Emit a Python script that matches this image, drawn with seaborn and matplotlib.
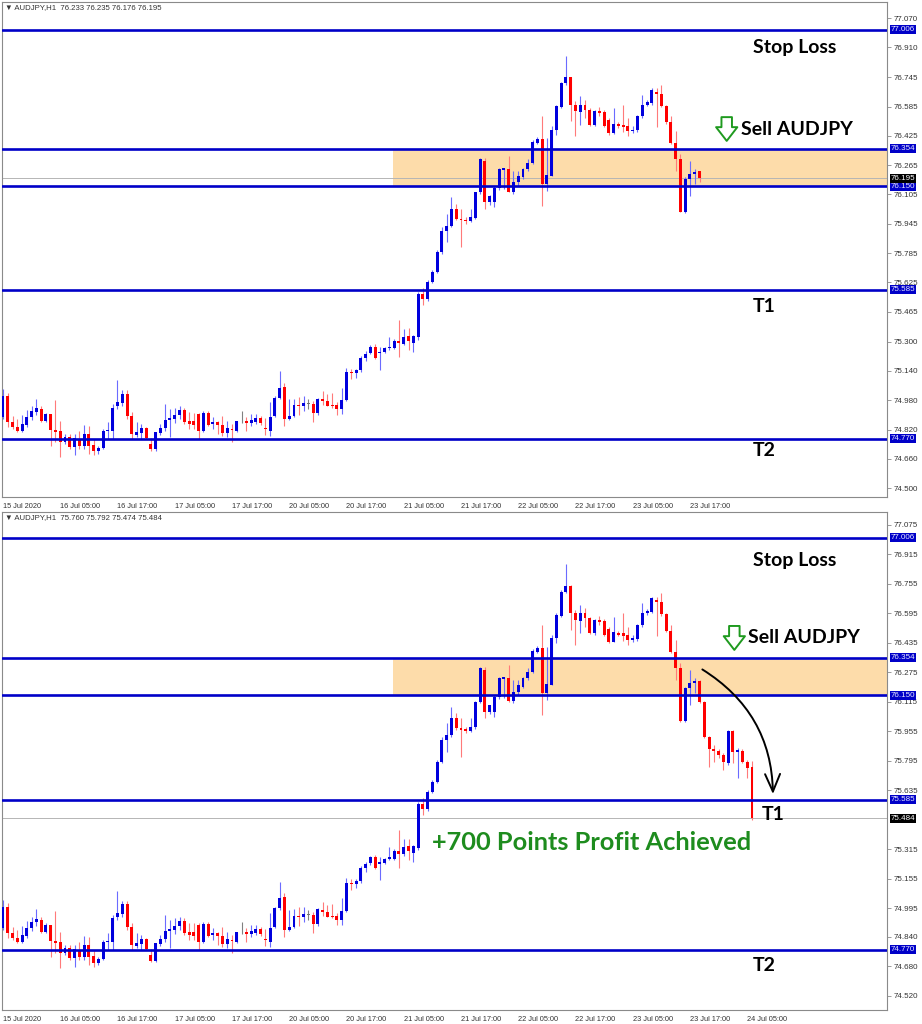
import matplotlib
matplotlib.use("Agg")
import matplotlib.pyplot as plt
import matplotlib.transforms as mtransforms
import numpy as np
import seaborn as sns

# AUDJPY H1 candles, 15 Jul 17:00 -> 24 Jul 05:00
bar_open = [74.886, 75.004, 74.860, 74.834, 74.814, 74.846, 74.886, 74.918, 74.931, 74.864,
            74.904, 74.817, 74.812, 74.751, 74.781, 74.723, 74.765, 74.729, 74.796, 74.736,
            74.700, 74.718, 74.812, 74.814, 74.946, 74.964, 75.016, 74.895, 74.790, 74.799,
            74.828, 74.741, 74.711, 74.801, 74.827, 74.873, 74.877, 74.899, 74.928, 74.868,
            74.868, 74.904, 74.814, 74.908, 74.852, 74.859, 74.846, 74.801, 74.823, 74.814,
            74.864, 74.864, 74.855, 74.863, 74.883, 74.827, 74.814, 74.895, 74.995, 75.054,
            74.877, 74.892, 74.953, 74.946, 74.959, 74.959, 74.908, 74.986, 74.977, 74.953,
            74.953, 74.931, 74.982, 75.134, 75.127, 75.145, 75.212, 75.240, 75.273, 75.237,
            75.242, 75.264, 75.264, 75.306, 75.288, 75.331, 75.295, 75.324, 75.559, 75.534,
            75.628, 75.682, 75.791, 75.908, 75.935, 76.026, 75.972, 75.966, 75.959, 75.977,
            76.116, 76.288, 76.062, 76.062, 76.143, 76.239, 76.243, 76.120, 76.171, 76.198,
            76.243, 76.275, 76.388, 76.409, 76.161, 76.207, 76.460, 76.583, 76.713, 76.746,
            76.596, 76.554, 76.596, 76.568, 76.487, 76.559, 76.554, 76.511, 76.442, 76.491,
            76.487, 76.478, 76.451, 76.455, 76.532, 76.596, 76.605, 76.668, 76.655, 76.590,
            76.500, 76.388, 76.297, 76.011, 76.192, 76.216, 76.228, 76.116, 75.926, 75.859,
            75.849, 75.827, 75.782, 75.957, 75.845, 75.849, 75.791, 75.760]
bar_high = [75.040, 75.022, 74.895, 74.877, 74.899, 74.928, 74.949, 74.989, 74.946, 74.913,
            74.906, 74.982, 74.868, 74.796, 74.796, 74.796, 74.814, 74.845, 74.841, 74.769,
            74.732, 74.823, 74.863, 74.959, 75.091, 75.036, 75.036, 74.917, 74.859, 74.850,
            74.832, 74.772, 74.808, 74.850, 74.959, 74.931, 74.940, 74.949, 74.940, 74.917,
            74.913, 74.913, 74.922, 74.922, 74.886, 74.868, 74.895, 74.868, 74.850, 74.868,
            74.922, 74.886, 74.904, 74.904, 74.895, 74.881, 74.968, 75.004, 75.139, 75.076,
            74.986, 74.989, 75.000, 75.004, 74.986, 74.977, 74.995, 75.031, 75.013, 75.018,
            74.968, 75.049, 75.158, 75.152, 75.152, 75.224, 75.248, 75.280, 75.285, 75.273,
            75.270, 75.328, 75.315, 75.419, 75.370, 75.373, 75.336, 75.570, 75.592, 75.635,
            75.690, 75.800, 75.926, 75.999, 76.089, 76.053, 76.026, 75.981, 76.026, 76.120,
            76.306, 76.306, 76.100, 76.152, 76.250, 76.252, 76.315, 76.234, 76.234, 76.250,
            76.300, 76.402, 76.420, 76.532, 76.415, 76.478, 76.596, 76.722, 76.863, 76.749,
            76.614, 76.641, 76.623, 76.578, 76.565, 76.583, 76.565, 76.523, 76.578, 76.500,
            76.596, 76.523, 76.478, 76.538, 76.650, 76.620, 76.686, 76.686, 76.704, 76.596,
            76.532, 76.451, 76.324, 76.198, 76.288, 76.247, 76.234, 76.120, 75.932, 75.881,
            75.859, 75.836, 75.960, 75.963, 75.867, 75.859, 75.800, 75.792]
bar_low = [74.877, 74.832, 74.823, 74.808, 74.805, 74.832, 74.873, 74.899, 74.863, 74.859,
           74.732, 74.751, 74.669, 74.741, 74.714, 74.678, 74.714, 74.714, 74.687, 74.678,
           74.687, 74.714, 74.769, 74.769, 74.931, 74.949, 74.877, 74.769, 74.778, 74.769,
           74.769, 74.705, 74.705, 74.790, 74.814, 74.778, 74.855, 74.877, 74.850, 74.823,
           74.823, 74.769, 74.805, 74.837, 74.823, 74.796, 74.787, 74.778, 74.751, 74.805,
           74.855, 74.814, 74.841, 74.850, 74.845, 74.790, 74.783, 74.886, 74.986, 74.841,
           74.873, 74.886, 74.899, 74.922, 74.931, 74.863, 74.899, 74.953, 74.946, 74.940,
           74.902, 74.904, 74.977, 75.094, 75.103, 75.134, 75.194, 75.232, 75.208, 75.146,
           75.236, 75.255, 75.258, 75.215, 75.280, 75.255, 75.246, 75.310, 75.500, 75.525,
           75.620, 75.675, 75.782, 75.845, 75.926, 75.963, 75.818, 75.945, 75.953, 75.970,
           76.107, 76.026, 76.050, 76.035, 76.130, 76.134, 76.116, 76.107, 76.152, 76.190,
           76.234, 76.270, 76.380, 76.044, 76.125, 76.207, 76.433, 76.578, 76.704, 76.505,
           76.424, 76.487, 76.523, 76.482, 76.480, 76.532, 76.474, 76.433, 76.438, 76.470,
           76.445, 76.424, 76.442, 76.445, 76.523, 76.587, 76.596, 76.474, 76.583, 76.493,
           76.379, 76.234, 76.008, 76.004, 76.098, 76.161, 76.107, 75.917, 75.764, 75.791,
           75.809, 75.745, 75.775, 75.782, 75.700, 75.782, 75.700, 75.474]
bar_close = [75.004, 74.860, 74.832, 74.814, 74.850, 74.886, 74.921, 74.935, 74.868, 74.904,
             74.817, 74.808, 74.751, 74.778, 74.723, 74.772, 74.729, 74.796, 74.732, 74.700,
             74.718, 74.814, 74.819, 74.940, 74.968, 75.016, 74.895, 74.796, 74.805, 74.828,
             74.772, 74.711, 74.805, 74.828, 74.872, 74.881, 74.899, 74.928, 74.863, 74.850,
             74.845, 74.814, 74.908, 74.846, 74.859, 74.845, 74.801, 74.827, 74.816, 74.864,
             74.864, 74.855, 74.873, 74.883, 74.855, 74.823, 74.886, 74.995, 75.049, 74.877,
             74.892, 74.953, 74.946, 74.964, 74.959, 74.910, 74.989, 74.977, 74.949, 74.946,
             74.931, 74.982, 75.134, 75.127, 75.145, 75.212, 75.235, 75.273, 75.213, 75.244,
             75.264, 75.273, 75.306, 75.291, 75.328, 75.306, 75.331, 75.560, 75.534, 75.628,
             75.682, 75.791, 75.908, 75.935, 76.026, 75.972, 75.963, 75.959, 75.981, 76.116,
             76.297, 76.062, 76.098, 76.143, 76.243, 76.248, 76.120, 76.171, 76.207, 76.243,
             76.279, 76.391, 76.409, 76.161, 76.210, 76.460, 76.587, 76.713, 76.746, 76.596,
             76.559, 76.596, 76.568, 76.487, 76.559, 76.550, 76.478, 76.442, 76.493, 76.478,
             76.474, 76.451, 76.460, 76.532, 76.596, 76.608, 76.677, 76.655, 76.590, 76.500,
             76.388, 76.297, 76.011, 76.192, 76.216, 76.228, 76.116, 75.926, 75.859, 75.849,
             75.827, 75.791, 75.957, 75.845, 75.854, 75.791, 75.758, 75.484]

# the upper screenshot was taken while bar 146 was still open
top_bar_count = 147
top_last_bar = [76.233, 76.235, 76.176, 76.195]

levels = [77.006, 76.354, 76.150, 75.585, 74.770]
zone = [76.150, 76.354]

top_yticks = [77.070, 76.910, 76.745, 76.585, 76.425, 76.265, 76.105, 75.945, 75.785,
              75.625, 75.465, 75.300, 75.140, 74.980, 74.820, 74.660, 74.500]
bot_yticks = [77.075, 76.915, 76.755, 76.595, 76.435, 76.275, 76.115, 75.955, 75.795,
              75.635, 75.315, 75.155, 74.995, 74.840, 74.680, 74.520]

time_labels = ["15 Jul 2020", "16 Jul 05:00", "16 Jul 17:00", "17 Jul 05:00", "17 Jul 17:00",
               "20 Jul 05:00", "20 Jul 17:00", "21 Jul 05:00", "21 Jul 17:00", "22 Jul 05:00",
               "22 Jul 17:00", "23 Jul 05:00", "23 Jul 17:00", "24 Jul 05:00"]

sns.set_style("white")
plt.rcParams["font.family"] = ["Liberation Sans", "DejaVu Sans"]

BLUE_LINE = "#0000c8"


def draw_candles(ax, o, h, l, c):
    o, h, l, c = map(np.asarray, (o, h, l, c))
    x = np.arange(len(o))
    up = c > o
    down = c < o
    body_col = np.where(up, "#0000dd", np.where(down, "#ff0000", "#707070"))
    wick_col = np.where(up, "#6b6bff", np.where(down, "#ff7a7a", "#808080"))
    ax.vlines(x, l, h, colors=wick_col, linewidth=0.8, zorder=2)
    bottom = np.minimum(o, c)
    height = np.maximum(np.abs(c - o), 0.004)
    ax.bar(x, height, bottom=bottom, width=0.62, color=body_col, linewidth=0, zorder=3)


def style_panel(ax, ylim, yticks, cur, n_labels, title):
    ax.set_xlim(-0.21, 185.3)
    ax.set_ylim(*ylim)
    for s in ax.spines.values():
        s.set_color("#8a8a8a")
        s.set_linewidth(0.8)
    # horizontal levels and sell zone
    ax.axhspan(zone[0], zone[1], xmin=0.4418, xmax=1, color="#fddcaa", lw=0, zorder=0)
    ax.axhline(cur, color="#b5b5b5", lw=0.7, zorder=1)
    for lvl in levels:
        ax.axhline(lvl, color=BLUE_LINE, lw=1.9, zorder=4)
    # right price scale
    ax.yaxis.tick_right()
    ax.set_yticks(yticks)
    ax.set_yticklabels([f"{v:.3f}" for v in yticks])
    ax.tick_params(axis="y", direction="out", length=3, pad=2, labelsize=5.8,
                   colors="#8a8a8a", labelcolor="#333333", width=0.6)
    trans = mtransforms.blended_transform_factory(ax.transAxes, ax.transData)
    for lvl in levels:
        ax.text(1.004, lvl, f"{lvl:.3f}", transform=trans, fontsize=5.8, color="#e8e8ff",
                va="center", ha="left", zorder=6,
                bbox=dict(boxstyle="square,pad=0.12", fc="#0000c8", ec="none"))
    ax.text(1.004, cur, f"{cur:.3f}", transform=trans, fontsize=5.8, color="white",
            va="center", ha="left", zorder=6,
            bbox=dict(boxstyle="square,pad=0.12", fc="black", ec="none"))
    # time axis
    ax.set_xticks(np.arange(n_labels) * 12)
    ax.set_xticklabels(time_labels[:n_labels])
    ax.tick_params(axis="x", direction="out", length=3, pad=1.5, labelsize=5.3,
                   colors="#8a8a8a", labelcolor="#333333", width=0.6)
    for lab in ax.get_xticklabels():
        lab.set_ha("left")
    ax.text(0.003, 0.988, "\u25bc AUDJPY,H1  " + title, transform=ax.transAxes,
            fontsize=5.6, color="#333333", va="center", ha="left")


def add_labels(ax, sl_y, sell, t1, t2):
    big = dict(fontsize=14, fontweight="bold", family="Lato", color="black",
               va="center", ha="left", zorder=7)
    ax.text(157.2, sl_y, "Stop Loss", **big)
    ax.text(sell[0], sell[1], "Sell AUDJPY", **big)
    # hollow green down arrow in front of "Sell AUDJPY"
    ax.annotate("", xy=(sell[0] - 2.9, sell[1] - 0.065), xytext=(sell[0] - 2.9, sell[1] + 0.065),
                arrowprops=dict(arrowstyle="simple,head_length=0.55,head_width=0.85,tail_width=0.42",
                                fc="white", ec="#1f9a1f", lw=1.4, mutation_scale=18,
                                shrinkA=0, shrinkB=0), zorder=7)
    ax.text(t1[0], t1[1], "T1", **big)
    ax.text(t2[0], t2[1], "T2", **big)


fig = plt.figure(figsize=(9.22, 10.24), dpi=100)
ax_top = fig.add_axes([2 / 922, 527 / 1024, 885 / 922, 495 / 1024])
ax_bot = fig.add_axes([2 / 922, 14 / 1024, 885 / 922, 498 / 1024])

# upper panel
o = bar_open[:top_bar_count - 1] + [top_last_bar[0]]
h = bar_high[:top_bar_count - 1] + [top_last_bar[1]]
l = bar_low[:top_bar_count - 1] + [top_last_bar[2]]
c = bar_close[:top_bar_count - 1] + [top_last_bar[3]]
draw_candles(ax_top, o, h, l, c)
style_panel(ax_top, (74.451, 77.1575), top_yticks, top_last_bar[3], 13,
            " ".join(f"{v:.3f}" for v in top_last_bar))
add_labels(ax_top, 76.906, (154.6, 76.463), (157.2, 75.495), (157.2, 74.703))

# lower panel
draw_candles(ax_bot, bar_open, bar_high, bar_low, bar_close)
last = [bar_open[-1], bar_high[-1], bar_low[-1], bar_close[-1]]
style_panel(ax_bot, (74.443, 77.1455), bot_yticks, bar_close[-1], 14,
            " ".join(f"{v:.3f}" for v in last))
add_labels(ax_bot, 76.885, (156.2, 76.462), (159.1, 75.502), (157.2, 74.682))
ax_bot.text(90.0, 75.350, "+700 Points Profit Achieved", fontsize=18.3, fontweight="bold",
            family="Lato", color="#1e8c1e", va="center", ha="left", zorder=7)
ax_bot.annotate("", xy=(161.4, 75.60), xytext=(146.1, 76.299),
                arrowprops=dict(arrowstyle="->,head_length=0.7,head_width=0.3",
                                connectionstyle="arc3,rad=-0.28", color="black",
                                lw=1.4, mutation_scale=18), zorder=7)

fig.savefig("out.png", dpi=100, facecolor="white")
